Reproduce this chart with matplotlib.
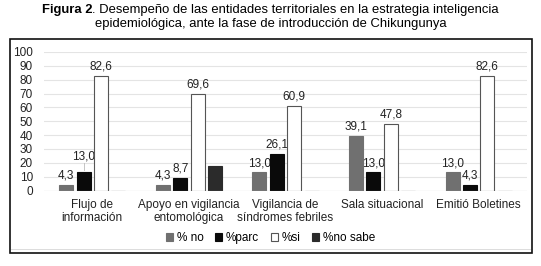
import matplotlib
matplotlib.use("Agg")
import matplotlib.pyplot as plt
import numpy as np
from matplotlib.patches import Rectangle

plt.rcParams['font.family'] = ['Liberation Sans', 'DejaVu Sans']

categories = ["Flujo de\ninformación", "Apoyo en vigilancia\nentomológica",
              "Vigilancia de\nsíndromes febriles", "Sala situacional", "Emitió Boletines"]
series_names = ["% no", "%parc", "%si", "%no sabe"]
pct_no = [4.3, 4.3, 13.0, 39.1, 13.0]
pct_parc = [13.0, 8.7, 26.1, 13.0, 4.3]
pct_si = [82.6, 69.6, 60.9, 47.8, 82.6]
pct_nosabe = [0, 17.4, 0, 0, 0]
yticks = list(range(0, 101, 10))

series = [pct_no, pct_parc, pct_si, pct_nosabe]
face = ["#707070", "#0a0a0a", "#ffffff", "#2b2b2b"]
edge = ["#707070", "#0a0a0a", "#555555", "#2b2b2b"]
show_label = [True, True, True, False]

W, H = 541, 266
fig = plt.figure(figsize=(W/100, H/100), dpi=100)
fig.patches.append(Rectangle((10/W, 1-253/H), 522/W, 214/H, transform=fig.transFigure,
                             fill=False, edgecolor="#111111", linewidth=1.2))
fig.patches.append(Rectangle((11/W, 1-250/H), 520/W, 1.5/H, transform=fig.transFigure,
                             facecolor="#dddddd", edgecolor="none"))

# Title: bold part + regular part, centered as a whole
fs_title = 9.4
renderer = fig.canvas.get_renderer()
t1 = fig.text(0, 0, "Figura 2", fontsize=fs_title, fontweight="bold")
t2 = fig.text(0, 0, ". Desempeño de las entidades territoriales en la estrategia inteligencia",
              fontsize=fs_title)
w1 = t1.get_window_extent(renderer).width
w2 = t2.get_window_extent(renderer).width
x0 = (W - (w1 + w2)) / 2
ytitle = 1 - 13/H
t1.set_position((x0/W, ytitle))
t2.set_position(((x0 + w1)/W, ytitle))
fig.text(0.5, 1 - 27/H, "epidemiológica, ante la fase de introducción de Chikungunya",
         ha="center", va="baseline", fontsize=fs_title)

ax = fig.add_axes([44/W, 1-190.5/H, 483/W, 138.5/H])
x = np.arange(len(categories))
w = 0.145
step = 0.18
offsets = (np.arange(4) - 1.5) * step
for i, vals in enumerate(series):
    ax.bar(x + offsets[i], vals, w, color=face[i], edgecolor=edge[i], linewidth=0.8,
           label=series_names[i], zorder=3)
    if show_label[i]:
        for j, (xi, v) in enumerate(zip(x + offsets[i], vals)):
            lab = f"{v:.1f}".replace(".", ",")
            if i == 1 and j == 0:
                # label moved up with a leader line
                ax.plot([xi, xi], [v + 1.5, v + 6.5], color="#bbbbbb", lw=0.6, zorder=3)
                ax.text(xi, v + 7.5, lab, ha="center", va="bottom", fontsize=8.5, color="#222222")
            else:
                ax.text(xi, v + 2.5, lab, ha="center", va="bottom", fontsize=8.5, color="#222222")

ax.set_xlim(-0.5, len(categories) - 0.5)
ax.set_ylim(0, 100)
ax.set_yticks(yticks)
ax.set_yticklabels([str(t) for t in yticks], fontsize=8.5, color="#222222")
ax.set_xticks(x)
ax.set_xticklabels(categories, fontsize=8.5, color="#222222", linespacing=1.1)
ax.tick_params(axis="y", length=0, pad=8)
ax.tick_params(axis="x", length=0, pad=6)
ax.yaxis.grid(True, color="#e4e4e4", linewidth=0.8, zorder=0)
for s in ax.spines.values():
    s.set_visible(False)
ax.axhline(0, color="#d0d0d0", linewidth=0.8, zorder=4)

fig.legend(loc="center", bbox_to_anchor=(0.5, 1-238/H), ncol=4, frameon=False,
           fontsize=8.5, handlelength=0.6, handleheight=0.6, handletextpad=0.3,
           columnspacing=1.0)

fig.savefig("out.png", dpi=100)
